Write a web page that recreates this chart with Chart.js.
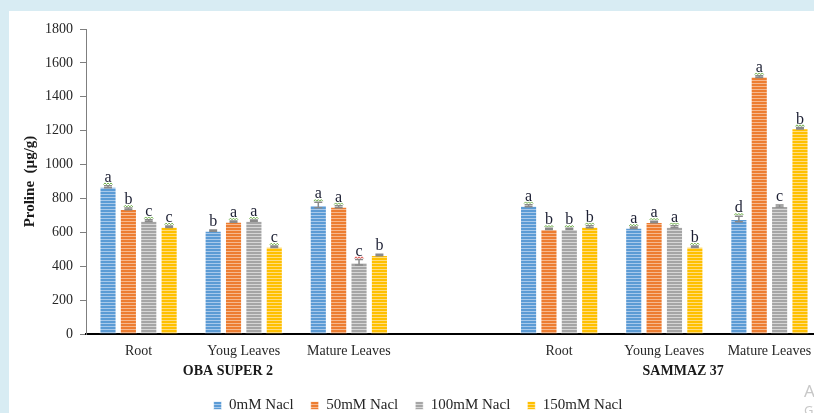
<!DOCTYPE html>
<html>
<head>
<meta charset="utf-8">
<script src="https://cdn.jsdelivr.net/npm/chart.js@4.4.1/dist/chart.umd.min.js"></script>
<style>
    html, body { margin: 0; padding: 0; width: 814px; height: 413px; overflow: hidden; background: #d8ecf3; }
    #panel { position: absolute; left: 9px; top: 11px; right: 0; bottom: 0; background: #ffffff; }
    #wrap { position: absolute; left: 0; top: 0; width: 826px; height: 423px; }
    .wm { position: absolute; color: #c8c8c8; font-family: 'Noto Sans', sans-serif; white-space: nowrap; }
</style>
</head>
<body>
<div id="panel"></div>
<div id="wrap"><canvas id="prolineChart" width="826" height="423"></canvas></div>
<div class="wm" style="left:804px; top:379px; font-size:17px;">Activate Windows</div>
<div class="wm" style="left:804px; top:401px; font-size:13px;">Go to Settings</div>

<script>
// categories (the empty slot is the gap between the two varieties)
const categories = ['Root', 'Youg Leaves', 'Mature Leaves', '', 'Root', 'Young Leaves', 'Mature Leaves'];
const groupNames = ['OBA SUPER 2', 'SAMMAZ 37'];
const seriesNames = ['0mM Nacl', '50mM Nacl', '100mM Nacl', '150mM Nacl'];

const nacl0   = [869, 610, 761, null, 757, 627, 679];
const nacl50  = [738, 663, 751, null, 620, 661, 1519];
const nacl100 = [669, 669, 423, null, 620, 633, 755];
const nacl150 = [633, 515, 466, null, 633, 515, 1214];

const err0   = [6, 4, 16, null, 6, 4, 16];
const err50  = [5, 4, 6, null, 4, 5, 5];
const err100 = [5, 4, 16, null, 4, 6, 6];
const err150 = [5, 4, 4, null, 6, 5, 4];

const letters0   = ['a', 'b', 'a', '', 'a', 'a', 'd'];
const letters50  = ['b', 'a', 'a', '', 'b', 'a', 'a'];
const letters100 = ['c', 'a', 'c', '', 'b', 'a', 'c'];
const letters150 = ['c', 'c', 'b', '', 'b', 'b', 'b'];

const yTicks = [0, 200, 400, 600, 800, 1000, 1200, 1400, 1600, 1800];

const colors = ['#5b9bd5', '#ed7d31', '#a5a5a5', '#ffc000'];
const stripeColors = ['#a9c9ea', '#f6b98f', '#d6d6d6', '#ffdd80'];

const values = [nacl0, nacl50, nacl100, nacl150];
const errors = [err0, err50, err100, err150];
const letters = [letters0, letters50, letters100, letters150];

// letters drawn without the little squiggle, and the one with a red squiggle
const plainLetters = ['0-1', '3-2', '2-6'];
const redLetters = ['2-2'];

function stripes(base, light) {
    const c = document.createElement('canvas');
    c.width = 4;
    c.height = 3;
    const g = c.getContext('2d');
    g.fillStyle = base;
    g.fillRect(0, 0, 4, 2);
    g.fillStyle = light;
    g.fillRect(0, 2, 4, 1);
    return g.createPattern(c, 'repeat');
}

const serif = '"Liberation Serif", "Times New Roman", serif';

const barMarks = {
    id: 'barMarks',
    afterLayout(chart) {
        // the legend sits a bit right of the canvas centre in the original
        chart.legend.left += 7;
        chart.legend.right += 7;
    },
    afterDatasetsDraw(chart) {
        const ctx = chart.ctx;
        const y = chart.scales.y;
        chart.data.datasets.forEach((ds, di) => {
            const meta = chart.getDatasetMeta(di);
            meta.data.forEach((bar, i) => {
                const v = ds.data[i];
                if (v == null) return;
                const e = errors[di][i];
                const top = y.getPixelForValue(v + e);
                const bot = y.getPixelForValue(v - e);

                ctx.save();
                ctx.strokeStyle = '#8a8a8a';
                ctx.lineWidth = 1.5;
                ctx.beginPath();
                ctx.moveTo(bar.x, top);
                ctx.lineTo(bar.x, bot);
                ctx.moveTo(bar.x - 4, top);
                ctx.lineTo(bar.x + 4, top);
                ctx.moveTo(bar.x - 4, bot);
                ctx.lineTo(bar.x + 4, bot);
                ctx.stroke();

                ctx.font = '16px ' + serif;
                ctx.fillStyle = '#1c1f33';
                ctx.textAlign = 'center';
                ctx.textBaseline = 'alphabetic';
                ctx.fillText(letters[di][i], bar.x, top - 4);

                const key = di + '-' + i;
                if (!plainLetters.includes(key)) {
                    ctx.strokeStyle = redLetters.includes(key) ? '#e0504a' : '#6fb04a';
                    ctx.lineWidth = 1;
                    ctx.beginPath();
                    const sy = top - 2;
                    for (let k = 0; k <= 6; k++) {
                        const px = bar.x - 4.5 + k * 1.5;
                        const py = sy + (k % 2 === 0 ? 0.8 : -0.8);
                        if (k === 0) ctx.moveTo(px, py); else ctx.lineTo(px, py);
                    }
                    ctx.stroke();
                }
                ctx.restore();
            });
        });
    },
    afterDraw(chart) {
        const ctx = chart.ctx;
        const x = chart.scales.x;
        const step = x.getPixelForValue(1) - x.getPixelForValue(0);
        ctx.save();
        ctx.font = 'bold 14px ' + serif;
        ctx.fillStyle = '#1a1a1a';
        ctx.textAlign = 'center';
        ctx.textBaseline = 'middle';
        ctx.fillText(groupNames[0], x.getPixelForValue(0) + step * 0.85, 371);
        ctx.fillText(groupNames[1], x.getPixelForValue(5) + step * 0.18, 371);
        ctx.restore();
    }
};

const ctx = document.getElementById('prolineChart').getContext('2d');

new Chart(ctx, {
    type: 'bar',
    data: {
        labels: categories,
        datasets: seriesNames.map((name, i) => ({
            label: name,
            data: values[i],
            backgroundColor: stripes(colors[i], stripeColors[i]),
            borderColor: 'rgba(255,255,255,0.6)',
            borderWidth: 1,
            categoryPercentage: 0.775,
            barPercentage: 0.84
        }))
    },
    options: {
        responsive: false,
        animation: false,
        devicePixelRatio: 1,
        layout: { padding: { top: 29, right: 4, left: 0, bottom: 0 } },
        plugins: {
            legend: {
                position: 'bottom',
                labels: {
                    font: { family: serif, size: 15 },
                    color: '#262626',
                    boxWidth: 8,
                    boxHeight: 8,
                    padding: 17
                }
            },
            tooltip: { enabled: false }
        },
        scales: {
            x: {
                grid: { display: false, tickLength: 0 },
                border: { display: true, color: '#000000', width: 2 },
                ticks: {
                    font: { family: serif, size: 14 },
                    color: '#262626',
                    padding: 9,
                    maxRotation: 0,
                    autoSkip: false
                },
                afterFit: (scale) => { scale.height = 47; }
            },
            y: {
                min: 0,
                max: 1800,
                afterBuildTicks: (scale) => { scale.ticks = yTicks.map(v => ({ value: v })); },
                grid: { drawOnChartArea: false, tickLength: 6, color: '#7f7f7f' },
                border: { color: '#7f7f7f', width: 1 },
                ticks: {
                    font: { family: serif, size: 14 },
                    color: '#262626',
                    padding: 7,
                    callback: (v) => String(v)
                },
                title: {
                    display: true,
                    text: 'Proline  (µg/g)',
                    font: { family: serif, size: 15, weight: 'bold' },
                    color: '#1a1a1a',
                    padding: { top: 21, bottom: 0 }
                },
                afterFit: (scale) => { scale.width = 86; }
            }
        }
    },
    plugins: [barMarks]
});
</script>
</body>
</html>
